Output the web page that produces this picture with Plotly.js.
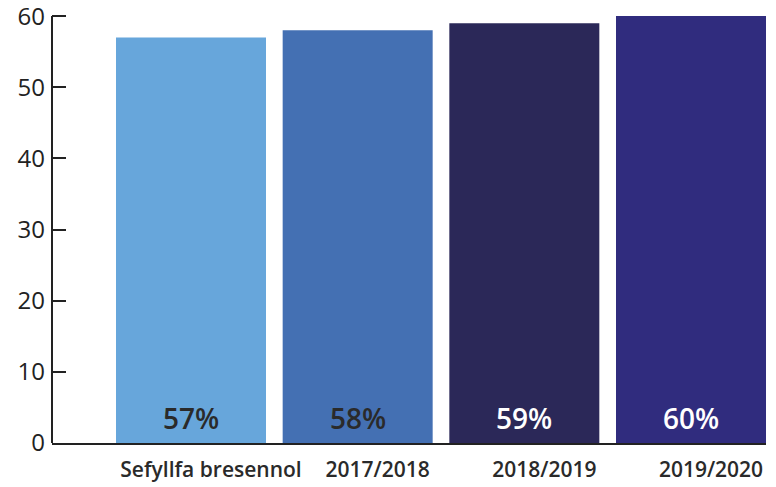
<!DOCTYPE html>
<html>
<head>
<meta charset="utf-8">
<script src="https://cdn.plot.ly/plotly-3.0.1.min.js"></script>
<style>html,body{margin:0;padding:0;background:#fff;}#chart{width:776px;height:487px;}</style>
</head>
<body>
<div id="chart"></div>
<script>
const categories = ["Sefyllfa bresennol", "2017/2018", "2018/2019", "2019/2020"];
const values = [57, 58, 59, 60];
const labels = ["57%", "58%", "59%", "60%"];
const barColors = ["#67A6DB", "#4470B3", "#2B2858", "#302C7E"];
const labelColors = ["#2a2a2a", "#2a2a2a", "#ffffff", "#ffffff"];
const yTicks = [0, 10, 20, 30, 40, 50, 60];

const trace = {
  type: "bar",
  x: categories,
  y: values,
  marker: {color: barColors, line: {width: 0}},
  width: 0.9,
  hoverinfo: "none"
};

const annotations = categories.map((c, i) => ({
  x: c, y: 3.5, xref: "x", yref: "y",
  text: labels[i], showarrow: false,
  yanchor: "middle", xanchor: "center",
  font: {family: "Open Sans, sans-serif", size: 28, color: labelColors[i], weight: 600}
}));

const layout = {
  width: 776, height: 487,
  margin: {l: 52, r: 10, t: 9, b: 44},
  paper_bgcolor: "#fff", plot_bgcolor: "#fff",
  showlegend: false,
  bargap: 0.1,
  xaxis: {
    type: "category",
    range: [-0.834, 3.45],
    showline: true, linecolor: "#222", linewidth: 2,
    ticks: "", showgrid: false, zeroline: false,
    ticklabelshift: 20,
    ticklabelstandoff: 7,
    tickfont: {family: "Open Sans, sans-serif", size: 21, color: "#2a2a2a", weight: 600}
  },
  yaxis: {
    range: [0, 61],
    tickvals: yTicks,
    ticktext: yTicks.map(String),
    showline: false,
    ticks: "inside", ticklen: 14, tickwidth: 2, tickcolor: "#222",
    showgrid: false, zeroline: false,
    ticklabeloverflow: "allow",
    ticklabelstandoff: 6,
    tickfont: {family: "Open Sans, sans-serif", size: 24, color: "#222"}
  },
  shapes: [{
    type: "line", xref: "paper", yref: "y",
    x0: 0, x1: 0, y0: 0, y1: yTicks[yTicks.length - 1],
    line: {color: "#222", width: 2}
  }],
  annotations: annotations
};

Plotly.newPlot("chart", [trace], layout, {displayModeBar: false, staticPlot: true});
</script>
</body>
</html>
